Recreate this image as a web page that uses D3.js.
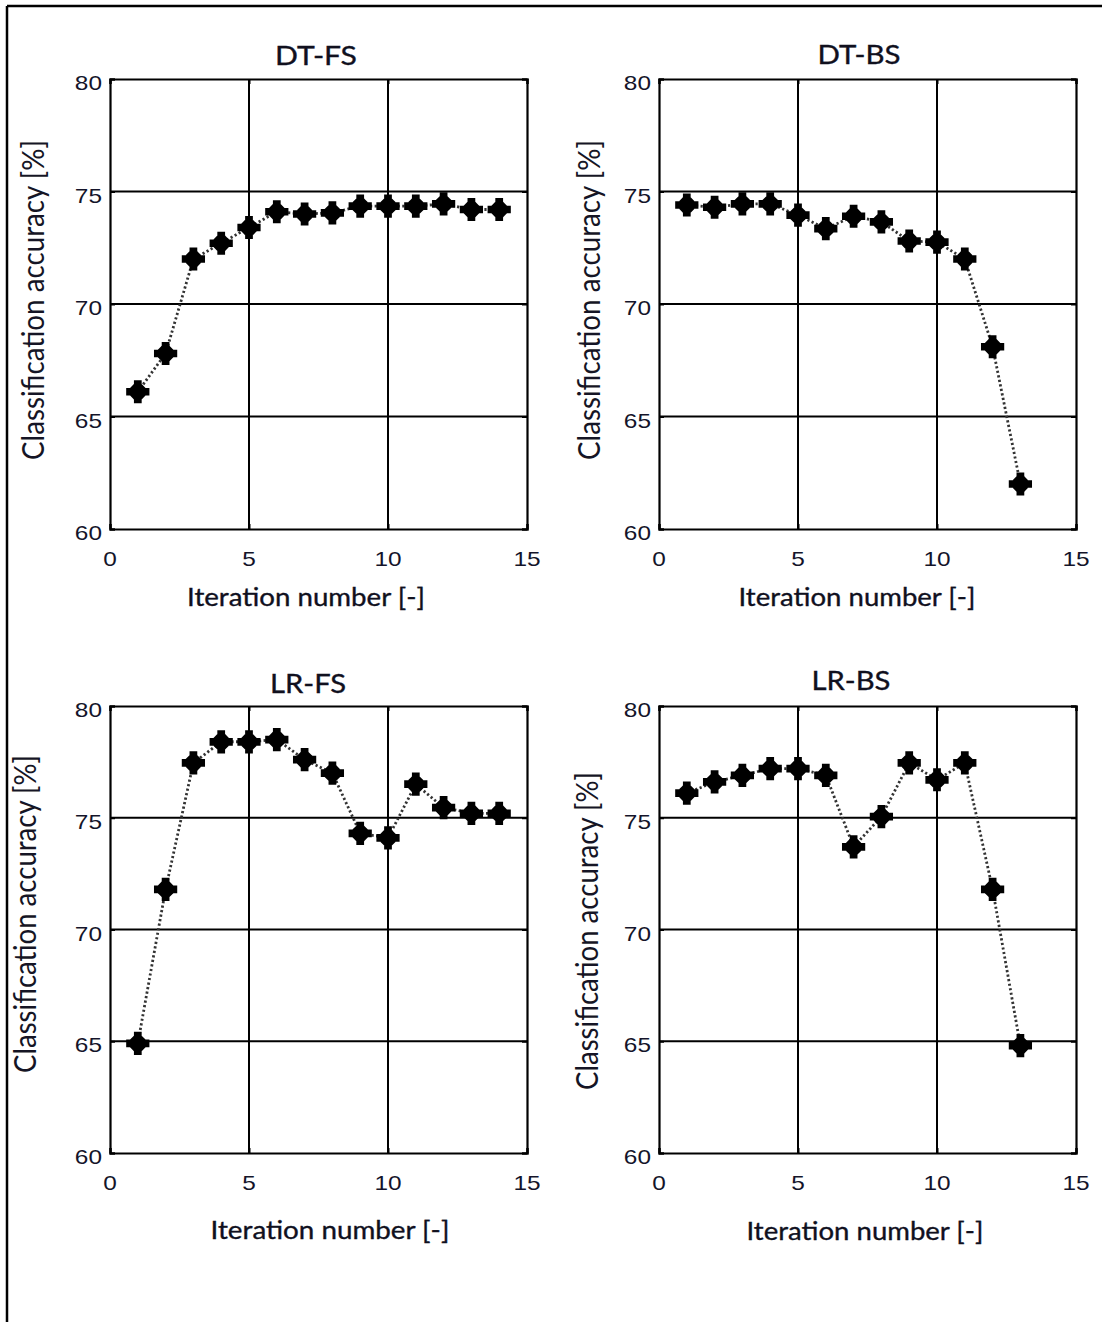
<!DOCTYPE html>
<html>
<head>
<meta charset="utf-8">
<script src="https://cdn.jsdelivr.net/npm/d3@7"></script>
<style>
  body { margin: 0; background: #fff; }
  svg { display: block; }
</style>
</head>
<body>
<svg id="chart" width="1102" height="1322"></svg>
<script>
// ---------------- data ----------------
const titles = ["DT-FS", "DT-BS", "LR-FS", "LR-BS"];
const xLabel = "Iteration number [-]";
const yLabel = "Classification accuracy [%]";
const xTicks = [0, 5, 10, 15];
const yTicks = [60, 65, 70, 75, 80];
const xDomain = [0, 15];
const yDomain = [60, 80];

const iterDTFS = [1, 2, 3, 4, 5, 6, 7, 8, 9, 10, 11, 12, 13, 14];
const accDTFS  = [66.1, 67.8, 72.0, 72.7, 73.4, 74.1, 74.0, 74.05, 74.35, 74.35, 74.35, 74.45, 74.2, 74.2];

const iterDTBS = [1, 2, 3, 4, 5, 6, 7, 8, 9, 10, 11, 12, 13];
const accDTBS  = [74.4, 74.3, 74.45, 74.45, 73.95, 73.35, 73.9, 73.65, 72.8, 72.75, 72.0, 68.1, 62.0];

const iterLRFS = [1, 2, 3, 4, 5, 6, 7, 8, 9, 10, 11, 12, 13, 14];
const accLRFS  = [64.9, 71.8, 77.45, 78.4, 78.4, 78.5, 77.6, 77.0, 74.3, 74.1, 76.5, 75.45, 75.2, 75.2];

const iterLRBS = [1, 2, 3, 4, 5, 6, 7, 8, 9, 10, 11, 12, 13];
const accLRBS  = [76.1, 76.6, 76.9, 77.2, 77.2, 76.9, 73.7, 75.05, 77.45, 76.7, 77.45, 71.8, 64.8];

// ---------------- layout ----------------
const panels = [
  { title: titles[0], iters: iterDTFS, acc: accDTFS,
    left: 110, right: 527, top: 79, bottom: 529,
    tX: 316, tY: 65, tW: 82, xlX: 306, xlY: 606, xlW: 238, ylX: 44, ylY: 300, ylL: 320 },
  { title: titles[1], iters: iterDTBS, acc: accDTBS,
    left: 659, right: 1076, top: 79, bottom: 529,
    tX: 859, tY: 64, tW: 83, xlX: 857, xlY: 606, xlW: 237, ylX: 600, ylY: 300, ylL: 320 },
  { title: titles[2], iters: iterLRFS, acc: accLRFS,
    left: 110, right: 527, top: 706, bottom: 1153,
    tX: 308, tY: 693, tW: 76, xlX: 330, xlY: 1239, xlW: 239, ylX: 36, ylY: 914, ylL: 318 },
  { title: titles[3], iters: iterLRBS, acc: accLRBS,
    left: 659, right: 1076, top: 706, bottom: 1153,
    tX: 851, tY: 690, tW: 79, xlX: 865, xlY: 1240, xlW: 237, ylX: 598, ylY: 931, ylL: 318 }
];

const STRETCH = 1.22;
const labelFont = "Lato, 'Open Sans', sans-serif";
const tickFont = "'Liberation Sans', Arial, sans-serif";

const svg = d3.select("#chart");
svg.append("rect").attr("width", 1102).attr("height", 1322).attr("fill", "#fff");

// outer frame (top and left edges visible)
svg.append("line").attr("x1", 7).attr("y1", 6).attr("x2", 1102).attr("y2", 6)
  .attr("stroke", "#000").attr("stroke-width", 2.5);
svg.append("line").attr("x1", 7).attr("y1", 6).attr("x2", 7).attr("y2", 1322)
  .attr("stroke", "#000").attr("stroke-width", 2.5);

function fitH(g, str, cx, by, targetW, size) {
  const t = g.append("text").text(str)
    .attr("font-family", labelFont).attr("font-size", size)
    .attr("text-anchor", "middle").attr("fill", "#10101e")
    .attr("stroke", "#10101e").attr("stroke-width", 0.35);
  const w = t.node().getComputedTextLength();
  t.attr("transform", `translate(${cx},${by}) scale(${targetW / w},1)`);
  return t;
}
function fitV(g, str, bx, cy, targetL, size) {
  const t = g.append("text").text(str)
    .attr("font-family", labelFont).attr("font-size", size)
    .attr("text-anchor", "middle").attr("fill", "#151525");
  const w = t.node().getComputedTextLength();
  t.attr("transform", `translate(${bx},${cy}) scale(${STRETCH},1) rotate(-90) scale(${targetL / w},1)`);
  return t;
}

const star = d3.symbol().type(d3.symbolCross).size(300);
const starDiag = d3.symbol().type(d3.symbolCross).size(150);

panels.forEach(p => {
  const g = svg.append("g");
  const x = d3.scaleLinear().domain(xDomain).range([p.left, p.right]);
  const y = d3.scaleLinear().domain(yDomain).range([p.bottom, p.top]);

  // grid lines
  g.append("g").selectAll("line").data(xTicks.slice(1, -1)).join("line")
    .attr("x1", d => x(d)).attr("x2", d => x(d))
    .attr("y1", p.top).attr("y2", p.bottom)
    .attr("stroke", "#000").attr("stroke-width", 2);
  g.append("g").selectAll("line").data(yTicks.slice(1, -1)).join("line")
    .attr("x1", p.left).attr("x2", p.right)
    .attr("y1", d => y(d)).attr("y2", d => y(d))
    .attr("stroke", "#000").attr("stroke-width", 2);

  // axes via d3 (inner ticks, labels drawn separately)
  const axB = d3.axisBottom(x).tickValues(xTicks).tickSize(-5).tickFormat("");
  const axT = d3.axisTop(x).tickValues(xTicks).tickSize(-5).tickFormat("");
  const axL = d3.axisLeft(y).tickValues(yTicks).tickSize(-5).tickFormat("");
  const axR = d3.axisRight(y).tickValues(yTicks).tickSize(-5).tickFormat("");
  [[axB, `translate(0,${p.bottom})`], [axT, `translate(0,${p.top})`],
   [axL, `translate(${p.left},0)`], [axR, `translate(${p.right},0)`]].forEach(([ax, tr]) => {
    const a = g.append("g").attr("transform", tr).call(ax);
    a.selectAll("path").attr("stroke", "#000").attr("stroke-width", 2.2);
    a.selectAll("line").attr("stroke", "#000").attr("stroke-width", 2);
  });

  // tick labels
  xTicks.forEach(v => {
    g.append("text").text(v)
      .attr("font-family", tickFont).attr("font-size", 20)
      .attr("text-anchor", "middle").attr("fill", "#14142a")
      .attr("transform", `translate(${x(v)},${p.bottom + 37}) scale(${STRETCH},1)`);
  });
  yTicks.forEach(v => {
    g.append("text").text(v)
      .attr("font-family", tickFont).attr("font-size", 20)
      .attr("text-anchor", "end").attr("fill", "#14142a")
      .attr("transform", `translate(${p.left - 8},${y(v) + 11}) scale(${STRETCH},1)`);
  });

  // titles and axis labels
  fitH(g, p.title, p.tX, p.tY, p.tW, 26);
  fitH(g, xLabel, p.xlX, p.xlY, p.xlW, 25);
  fitV(g, yLabel, p.ylX, p.ylY, p.ylL, 26);

  // dotted series line
  const pts = p.iters.map((it, i) => [it, p.acc[i]]);
  g.append("path").datum(pts)
    .attr("d", d3.line().x(d => x(d[0])).y(d => y(d[1])))
    .attr("fill", "none").attr("stroke", "#333")
    .attr("stroke-width", 2.8).attr("stroke-dasharray", "2.2,2.4");

  // markers
  const m = g.append("g").selectAll("g").data(pts).join("g")
    .attr("transform", d => `translate(${x(d[0])},${y(d[1])})`);
  m.append("path").attr("d", star).attr("fill", "#000");
  m.append("path").attr("d", starDiag).attr("transform", "rotate(45)").attr("fill", "#000");
  m.append("circle").attr("r", 7).attr("fill", "#000");
});
</script>
</body>
</html>
